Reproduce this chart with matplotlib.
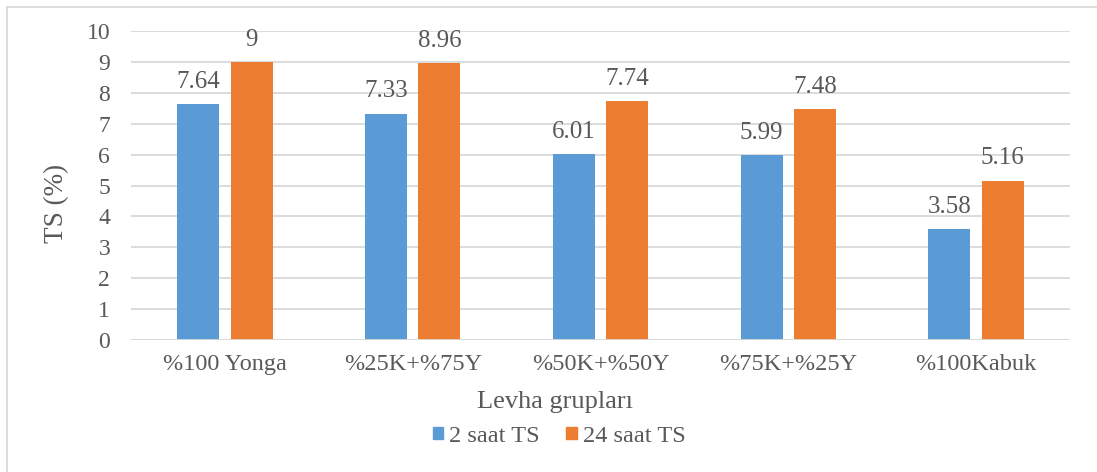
import matplotlib
matplotlib.use("Agg")
import matplotlib.pyplot as plt
import numpy as np
from matplotlib.lines import Line2D

plt.rcParams['font.family'] = ['Liberation Serif', 'DejaVu Serif']

categories = ["%100 Yonga", "%25K+%75Y", "%50K+%50Y", "%75K+%25Y", "%100Kabuk"]
ts_2h = [7.64, 7.33, 6.01, 5.99, 3.58]
ts_24h = [9, 8.96, 7.74, 7.48, 5.16]
series_names = ["2 saat TS", "24 saat TS"]
yticks = list(range(0, 11))

text_color = "#595959"
grid_color = "#D9D9D9"
blue = "#5B9BD5"
orange = "#ED7D31"

W, H = 1097, 472
fig = plt.figure(figsize=(W/100, H/100), dpi=100)
ax = fig.add_axes([131/W, 1-340/H, (1070-131)/W, (340-31)/H])

x = np.arange(len(categories))
w = 0.224
off = 0.1425
b1 = ax.bar(x - off, ts_2h, w, color=blue, zorder=3)
b2 = ax.bar(x + off, ts_24h, w, color=orange, zorder=3)

for bars, vals in ((b1, ts_2h), (b2, ts_24h)):
    for rect, v in zip(bars, vals):
        ax.annotate(f"{v:g}", (rect.get_x() + rect.get_width()/2, v),
                    xytext=(0, 8), textcoords="offset points",
                    ha="center", va="bottom", fontsize=18, color=text_color)

ax.set_xlim(-0.5, len(categories) - 0.5)
ax.set_ylim(0, 10)
ax.set_yticks(yticks)
ax.set_yticklabels([str(t) for t in yticks])
ax.set_xticks(x)
ax.set_xticklabels(categories)
ax.tick_params(axis='y', length=0, labelsize=17, labelcolor=text_color, pad=15)
ax.tick_params(axis='x', length=0, labelsize=17.5, labelcolor=text_color, pad=10)
ax.yaxis.grid(True, color=grid_color, linewidth=1.3, zorder=0)
ax.set_axisbelow(True)
for s in ax.spines.values():
    s.set_visible(False)
ax.axhline(0, color=grid_color, linewidth=1.3, zorder=4)

ax.set_ylabel("TS (%)", fontsize=19.5, color=text_color, va="center", ha="center")
ax.yaxis.set_label_coords((57-131)/939, (340-203)/309)
ax.set_xlabel("Levha grupları", fontsize=19, color=text_color, va="baseline", ha="center")
ax.xaxis.set_label_coords((555-131)/939, (340-408)/309)

handles = [plt.Rectangle((0, 0), 1, 1, color=blue), plt.Rectangle((0, 0), 1, 1, color=orange)]
leg = fig.legend(handles, series_names, loc="center", bbox_to_anchor=(559/W, 1-436/H),
                 ncol=2, frameon=False, fontsize=17.5, handlelength=0.42, handleheight=0.42,
                 handletextpad=0.25, columnspacing=1.1, borderpad=0, borderaxespad=0)
for t in leg.get_texts():
    t.set_color(text_color)

# outer frame (top and left edges)
fig.add_artist(Line2D([6.5/W, 6.5/W], [0, 1-7/H], transform=fig.transFigure, color=grid_color, linewidth=1.3))
fig.add_artist(Line2D([6.5/W, 1], [1-7/H, 1-7/H], transform=fig.transFigure, color=grid_color, linewidth=1.3))

fig.savefig("out.png", dpi=100)
